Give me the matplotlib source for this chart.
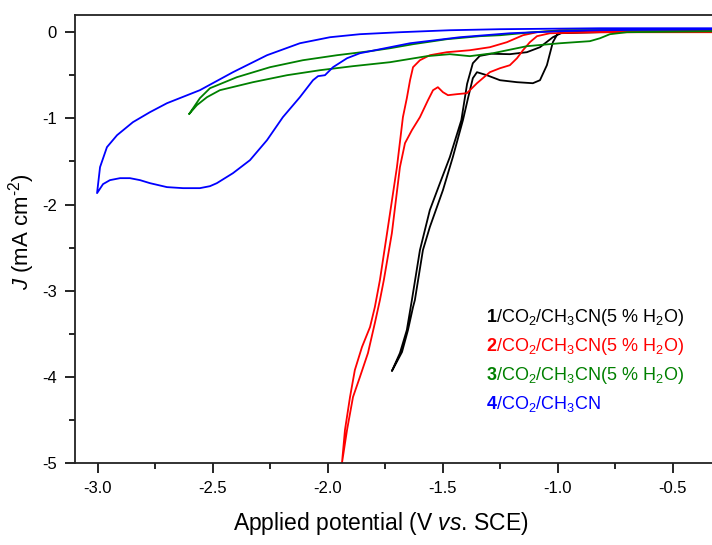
import matplotlib
matplotlib.use('Agg')
import matplotlib.pyplot as plt
from matplotlib.ticker import MultipleLocator, FormatStrFormatter

# CV traces: (E / V vs SCE, J / mA cm^-2), one closed loop each
cv1_e = [-0.30, -0.978, -1.022, -1.078, -1.135, -1.209, -1.290, -1.340, -1.370, -1.395,
         -1.420, -1.470, -1.513, -1.557, -1.600, -1.635, -1.657, -1.687, -1.722,
         -1.717, -1.678, -1.652, -1.630, -1.622, -1.587, -1.557, -1.500, -1.457, -1.413,
         -1.391, -1.370, -1.352, -1.309, -1.252, -1.178, -1.109, -1.078, -1.048, -1.022,
         -1.000, -0.817, -0.30]
cv1_j = [0.012, 0.0, -0.058, -0.174, -0.232, -0.255, -0.250, -0.275, -0.360, -0.600,
         -1.021, -1.450, -1.752, -2.065, -2.529, -3.109, -3.457, -3.724, -3.933,
         -3.909, -3.712, -3.457, -3.190, -3.109, -2.529, -2.262, -1.833, -1.450, -1.021,
         -0.766, -0.534, -0.464, -0.499, -0.557, -0.580, -0.592, -0.557, -0.383, -0.116,
         -0.012, 0.0, 0.012]

cv2_e = [-0.30, -0.730, -0.991, -1.091, -1.152, -1.222, -1.296, -1.383, -1.483, -1.557,
         -1.600, -1.630, -1.643, -1.657, -1.674, -1.700, -1.743, -1.774, -1.796, -1.817,
         -1.852, -1.883, -1.904, -1.926, -1.939,
         -1.917, -1.891, -1.861, -1.826, -1.796, -1.774, -1.757, -1.722, -1.687, -1.665,
         -1.635, -1.600, -1.565, -1.543, -1.522, -1.500, -1.478, -1.439, -1.396, -1.352,
         -1.296, -1.252, -1.209, -1.178, -1.152, -1.122, -1.091, -1.035, -0.817, -0.30]
cv2_j = [0.012, 0.012, 0.023, 0.0, -0.035, -0.116, -0.174, -0.209, -0.232, -0.267,
         -0.325, -0.406, -0.557, -0.766, -0.986, -1.566, -2.332, -2.877, -3.190, -3.422,
         -3.654, -3.921, -4.234, -4.617, -5.0,
         -4.617, -4.234, -4.002, -3.724, -3.376, -3.109, -2.877, -2.332, -1.566, -1.288,
         -1.137, -0.986, -0.789, -0.673, -0.638, -0.696, -0.731, -0.719, -0.708, -0.592,
         -0.464, -0.418, -0.383, -0.302, -0.209, -0.116, -0.046, -0.012, 0.0, 0.0]

cv3_e = [-0.30, -0.961, -1.109, -1.252, -1.339, -1.483, -1.630, -1.730, -1.817, -1.961,
         -2.109, -2.252, -2.396, -2.513, -2.557, -2.604,
         -2.570, -2.526, -2.470, -2.326, -2.178, -2.035, -1.891, -1.730, -1.570, -1.470,
         -1.383, -1.283, -1.135, -0.991, -0.861, -0.817, -0.774, -0.700, -0.30]
cv3_j = [0.035, 0.023, 0.0, -0.035, -0.046, -0.081, -0.139, -0.186, -0.220, -0.267,
         -0.325, -0.406, -0.522, -0.650, -0.766, -0.951,
         -0.847, -0.754, -0.673, -0.580, -0.499, -0.441, -0.394, -0.348, -0.278, -0.255,
         -0.278, -0.244, -0.162, -0.128, -0.104, -0.070, -0.023, 0.0, 0.012]

cv4_e = [-0.30, -0.817, -1.252, -1.470, -1.687, -1.861, -1.991, -2.122, -2.265, -2.413,
         -2.557, -2.700, -2.774, -2.848, -2.917, -2.961, -2.991, -3.004,
         -2.978, -2.948, -2.904, -2.861, -2.817, -2.774, -2.700, -2.630, -2.557, -2.513,
         -2.483, -2.413, -2.339, -2.265, -2.196, -2.122, -2.065, -2.043, -2.013, -1.978,
         -1.917, -1.861, -1.643, -1.426, -1.209, -0.991, -0.817, -0.30]
cv4_j = [0.046, 0.046, 0.035, 0.023, 0.0, -0.023, -0.058, -0.128, -0.267, -0.464,
         -0.673, -0.824, -0.928, -1.044, -1.195, -1.334, -1.566, -1.868,
         -1.763, -1.717, -1.694, -1.694, -1.717, -1.752, -1.798, -1.810, -1.810, -1.787,
         -1.752, -1.636, -1.485, -1.253, -0.986, -0.754, -0.557, -0.510, -0.499, -0.406,
         -0.302, -0.244, -0.128, -0.058, -0.012, 0.012, 0.023, 0.035]

labels = [r'$\mathbf{1}$/CO$_2$/CH$_3$CN(5 % H$_2$O)',
          r'$\mathbf{2}$/CO$_2$/CH$_3$CN(5 % H$_2$O)',
          r'$\mathbf{3}$/CO$_2$/CH$_3$CN(5 % H$_2$O)',
          r'$\mathbf{4}$/CO$_2$/CH$_3$CN']
colors = ['#000000', '#ff0000', '#008000', '#0000ff']

plt.rcParams['font.family'] = 'Liberation Sans'
plt.rcParams['mathtext.fontset'] = 'custom'
plt.rcParams['mathtext.rm'] = 'Liberation Sans'
plt.rcParams['mathtext.it'] = 'Liberation Sans:italic'
plt.rcParams['mathtext.bf'] = 'Liberation Sans:bold'

fig = plt.figure(figsize=(7.12, 5.45), dpi=100, facecolor='w')
ax = fig.add_axes([0.1053, 0.1505, 0.8947, 0.822])

curves = [(cv1_e, cv1_j), (cv2_e, cv2_j), (cv3_e, cv3_j), (cv4_e, cv4_j)]
for (e, j), c in zip(curves, colors):
    ax.plot(e, j, color=c, lw=1.3)

ax.set_xlim(-3.1, -0.33)
ax.set_ylim(-5.0, 0.2)
ax.xaxis.set_major_locator(MultipleLocator(0.5))
ax.xaxis.set_minor_locator(MultipleLocator(0.25))
ax.yaxis.set_major_locator(MultipleLocator(1))
ax.yaxis.set_minor_locator(MultipleLocator(0.5))
ax.xaxis.set_major_formatter(FormatStrFormatter('%.1f'))
ax.yaxis.set_major_formatter(FormatStrFormatter('%d'))
ax.tick_params(which='major', direction='out', length=7, width=1.2, labelsize=12, pad=6)
ax.tick_params(which='minor', direction='out', length=4, width=1.2)
ax.tick_params(top=False, right=False)
ax.spines['right'].set_visible(False)
for s in ['left', 'bottom', 'top']:
    ax.spines[s].set_linewidth(1.3)
    ax.spines[s].set_color('#222222')

ax.set_xlabel(r'Applied potential (V $\mathit{vs}$. SCE)', fontsize=16.5)
ax.xaxis.set_label_coords(0.48, -0.105)
ax.set_ylabel(r'$\mathit{J}$ (mA cm$^{\text{-}2}$)', fontsize=16)
ax.yaxis.set_label_coords(-0.06, 0.516)

for i, (lab, c) in enumerate(zip(labels, colors)):
    ax.text(0.645, 0.325 - i * 0.0647, lab, color=c, fontsize=13,
            transform=ax.transAxes, va='center', ha='left')

fig.savefig('out.png', dpi=100)
plt.close(fig)
